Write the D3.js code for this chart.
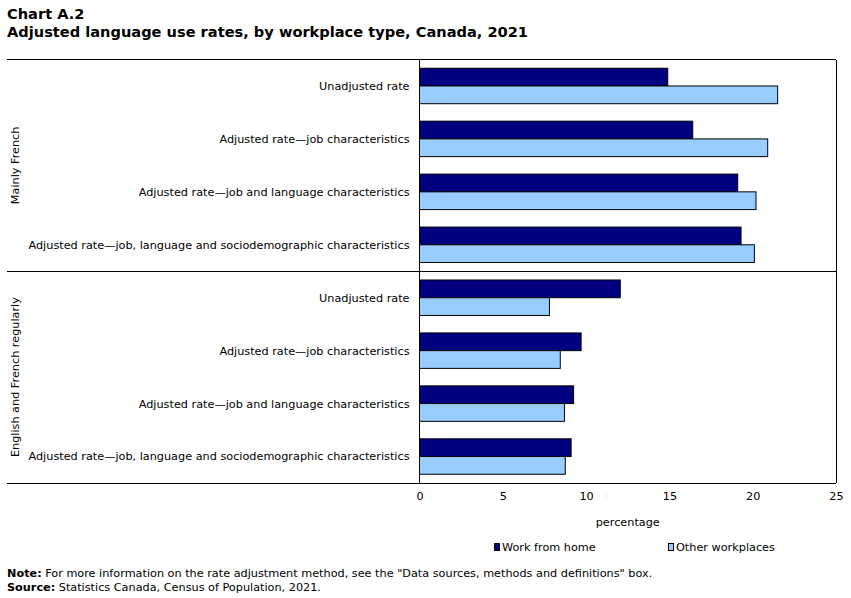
<!DOCTYPE html>
<html>
<head>
<meta charset="utf-8">
<script src="https://cdn.jsdelivr.net/npm/d3@7"></script>
<style>
    body { margin: 0; background: #fff; }
    svg { display: block; font-family: "DejaVu Sans", Verdana, sans-serif; }
</style>
</head>
<body>
<div id="chart"></div>
<script>
// chart data
let groups = ['Mainly French', 'English and French regularly'];
let rates = [
    'Unadjusted rate',
    'Adjusted rate\u2014job characteristics',
    'Adjusted rate\u2014job and language characteristics',
    'Adjusted rate\u2014job, language and sociodemographic characteristics'
];
let series = ['Work from home', 'Other workplaces'];
let homeValues = [14.9, 16.4, 19.1, 19.3, 12.05, 9.7, 9.25, 9.1];
let otherValues = [21.5, 20.9, 20.2, 20.1, 7.8, 8.45, 8.7, 8.75];
let xTicks = [0, 5, 10, 15, 20, 25];
let colors = ['#000080', '#99ccff'];

const width = 851, height = 598;
const fs = '11.25px';
let plot = {left: 419.5, right: 836, top: 59.5, bottom: 483};

let svg = d3.select('#chart').append('svg')
    .attr('width', width)
    .attr('height', height);

// titles
svg.append('text')
    .attr('x', 7).attr('y', 19)
    .style('font-weight', 'bold').style('font-size', '14.6px')
    .text('Chart A.2');
svg.append('text')
    .attr('x', 7).attr('y', 37)
    .style('font-weight', 'bold').style('font-size', '14.6px')
    .text('Adjusted language use rates, by workplace type, Canada, 2021');

// build rows: one per group/rate
let rows = [];
groups.forEach(function(g, gi) {
    rates.forEach(function(r, ri) {
        let i = gi * rates.length + ri;
        rows.push({key: i, group: g, rate: r, values: [homeValues[i], otherValues[i]]});
    });
});

let x = d3.scaleLinear()
    .domain([0, 25])
    .range([plot.left, plot.right]);

let y = d3.scaleBand()
    .domain(rows.map(d => d.key))
    .range([plot.top, plot.bottom])
    .paddingInner(0.33)
    .paddingOuter(0.165);

let ySub = d3.scaleBand()
    .domain([0, 1])
    .range([0, y.bandwidth()]);

// bars
let g = svg.append('g');
g.selectAll('.row')
    .data(rows)
    .join('g')
    .attr('transform', d => `translate(0,${y(d.key)})`)
    .selectAll('rect')
    .data(d => d.values)
    .join('rect')
    .attr('x', x(0))
    .attr('y', (d, i) => ySub(i))
    .attr('width', d => x(d) - x(0))
    .attr('height', ySub.bandwidth())
    .attr('fill', (d, i) => colors[i])
    .attr('stroke', '#000')
    .attr('stroke-width', 1);

// row labels
svg.selectAll('.rowlabel')
    .data(rows)
    .join('text')
    .attr('x', plot.left - 10)
    .attr('y', d => y(d.key) + y.bandwidth() / 2)
    .attr('dy', '0.35em')
    .attr('text-anchor', 'end')
    .style('font-size', fs)
    .text(d => d.rate);

// frame lines
let groupY = d3.scaleBand().domain(groups).range([plot.top, plot.bottom]);
let frame = svg.append('g').attr('stroke', '#000').attr('stroke-width', 1).attr('shape-rendering', 'crispEdges');
[plot.top, groupY(groups[1]), plot.bottom].forEach(function(yy) {
    frame.append('line').attr('x1', 7).attr('x2', plot.right).attr('y1', yy).attr('y2', yy);
});
frame.append('line').attr('x1', plot.left).attr('x2', plot.left).attr('y1', plot.top).attr('y2', plot.bottom);
frame.append('line').attr('x1', plot.right).attr('x2', plot.right).attr('y1', plot.top).attr('y2', plot.bottom);

// group labels (rotated)
svg.selectAll('.grouplabel')
    .data(groups)
    .join('text')
    .attr('transform', d => `translate(19,${groupY(d) + groupY.bandwidth() / 2}) rotate(-90)`)
    .attr('text-anchor', 'middle')
    .style('font-size', fs)
    .text(d => d);

// x axis
let xAxis = d3.axisBottom(x).tickValues(xTicks).tickSize(0).tickPadding(9);
let ax = svg.append('g')
    .attr('transform', `translate(0,${plot.bottom})`)
    .call(xAxis);
ax.select('.domain').remove();
ax.selectAll('text').style('font-size', fs).style('font-family', '"DejaVu Sans", Verdana, sans-serif');

svg.append('text')
    .attr('x', (plot.left + plot.right) / 2)
    .attr('y', 526)
    .attr('text-anchor', 'middle')
    .style('font-size', fs)
    .text('percentage');

// legend
let legendX = [494, 668];
let legend = svg.selectAll('.legend')
    .data(series)
    .join('g')
    .attr('transform', (d, i) => `translate(${legendX[i]},543)`);
legend.append('rect')
    .attr('x', 0.5).attr('y', 0.5)
    .attr('width', 5).attr('height', 7)
    .attr('fill', (d, i) => colors[i])
    .attr('stroke', '#000');
legend.append('text')
    .attr('x', 8).attr('y', 8)
    .style('font-size', fs)
    .text(d => d);

// notes
let note = svg.append('text').attr('x', 7).attr('y', 577).style('font-size', fs);
note.append('tspan').style('font-weight', 'bold').text('Note:');
note.append('tspan').text(' For more information on the rate adjustment method, see the "Data sources, methods and definitions" box.');
let source = svg.append('text').attr('x', 7).attr('y', 591).style('font-size', fs);
source.append('tspan').style('font-weight', 'bold').text('Source:');
source.append('tspan').text(' Statistics Canada, Census of Population, 2021.');
</script>
</body>
</html>
